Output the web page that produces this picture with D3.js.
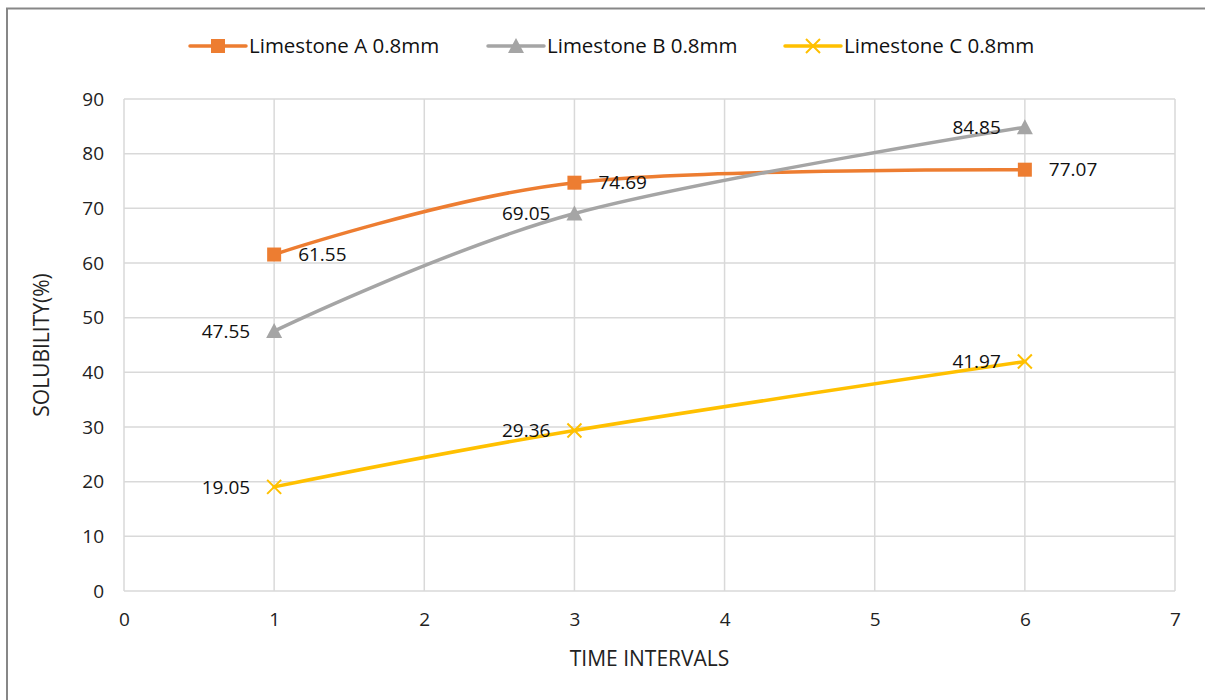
<!DOCTYPE html>
<html>
<head>
<meta charset="utf-8">
<script src="https://cdn.jsdelivr.net/npm/d3@7"></script>
<style>
  html, body { margin: 0; padding: 0; background: #fff; }
  svg { display: block; font-family: "Open Sans", sans-serif; }
</style>
</head>
<body>
<svg id="chart" width="1205" height="700"></svg>
<script>
// Solubility of limestone samples over time intervals
const timeIntervals = [1, 3, 6];
const limestoneA = [61.55, 74.69, 77.07];
const limestoneB = [47.55, 69.05, 84.85];
const limestoneC = [19.05, 29.36, 41.97];
const seriesNames = ["Limestone A 0.8mm", "Limestone B 0.8mm", "Limestone C 0.8mm"];
const xTicks = [0, 1, 2, 3, 4, 5, 6, 7];
const yTicks = [0, 10, 20, 30, 40, 50, 60, 70, 80, 90];

const series = [
  { name: seriesNames[0], values: limestoneA, color: "#ED7D31", marker: "square", labelSide: "right" },
  { name: seriesNames[1], values: limestoneB, color: "#A5A5A5", marker: "triangle", labelSide: "left" },
  { name: seriesNames[2], values: limestoneC, color: "#FFC000", marker: "cross", labelSide: "left" }
];

const FONT = "'Open Sans', sans-serif";
const svg = d3.select("#chart");

// outer frame
svg.append("path")
  .attr("d", "M7,700 L7,8.5 L1205,8.5")
  .attr("fill", "none")
  .attr("stroke", "#878787")
  .attr("stroke-width", 2);

const x = d3.scaleLinear().domain([0, 7]).range([124, 1175]);
const y = d3.scaleLinear().domain([0, 90]).range([591, 99]);

// gridlines
const grid = svg.append("g");
grid.selectAll("line.h").data(yTicks).join("line")
  .attr("x1", x(0)).attr("x2", x(7))
  .attr("y1", d => y(d)).attr("y2", d => y(d))
  .attr("stroke", "#D9D9D9").attr("stroke-width", 1.5);
grid.selectAll("line.v").data(xTicks).join("line")
  .attr("y1", y(0)).attr("y2", y(90))
  .attr("x1", d => x(d)).attr("x2", d => x(d))
  .attr("stroke", "#D9D9D9").attr("stroke-width", 1.5);

// axes (tick labels only)
const yAxis = svg.append("g")
  .attr("transform", `translate(${x(0) - 20},0)`)
  .call(d3.axisLeft(y).tickValues(yTicks).tickFormat(d3.format("d")).tickSize(0).tickPadding(0));
yAxis.select(".domain").remove();
yAxis.selectAll("text").attr("font-size", 19).attr("fill", "#222").attr("font-family", FONT);

const xAxis = svg.append("g")
  .attr("transform", `translate(0,${y(0) + 21})`)
  .call(d3.axisBottom(x).tickValues(xTicks).tickFormat(d3.format("d")).tickSize(0).tickPadding(0));
xAxis.select(".domain").remove();
xAxis.selectAll("text").attr("font-size", 19).attr("fill", "#222").attr("font-family", FONT);

// axis titles
svg.append("text")
  .attr("x", (x(0) + x(7)) / 2).attr("y", 659)
  .attr("dy", "0.35em")
  .attr("text-anchor", "middle").attr("font-size", 21).attr("fill", "#222")
  .text("TIME INTERVALS");
svg.append("text")
  .attr("transform", `translate(42,${(y(0) + y(90)) / 2}) rotate(-90)`)
  .attr("text-anchor", "middle").attr("dy", "0.35em").attr("font-size", 21).attr("fill", "#222")
  .text("SOLUBILITY(%)");

function drawMarker(g, type, color) {
  if (type === "square") {
    g.append("rect").attr("x", -7).attr("y", -7).attr("width", 14).attr("height", 14).attr("fill", color);
  } else if (type === "triangle") {
    g.append("path").attr("d", "M0,-8 L8,7 L-8,7 Z").attr("fill", color);
  } else {
    g.append("path").attr("d", "M-7,-7 L7,7 M-7,7 L7,-7")
      .attr("stroke", color).attr("stroke-width", 2).attr("fill", "none");
  }
}

const line = d3.line()
  .x((d, i) => x(timeIntervals[i]))
  .y(d => y(d))
  .curve(d3.curveCardinal.tension(0));

series.forEach(s => {
  svg.append("path")
    .attr("d", line(s.values))
    .attr("fill", "none")
    .attr("stroke", s.color)
    .attr("stroke-width", 3.5)
    .attr("stroke-linecap", "round");
});

series.forEach(s => {
  s.values.forEach((v, i) => {
    const g = svg.append("g").attr("transform", `translate(${x(timeIntervals[i])},${y(v)})`);
    drawMarker(g, s.marker, s.color);
  });
});

// data labels
series.forEach(s => {
  svg.append("g").selectAll("text").data(s.values).join("text")
    .attr("x", (d, i) => x(timeIntervals[i]) + (s.labelSide === "right" ? 24 : -24))
    .attr("y", d => y(d))
    .attr("dy", "0.35em")
    .attr("text-anchor", s.labelSide === "right" ? "start" : "end")
    .attr("font-size", 19)
    .attr("fill", "#111")
    .text(d => d.toFixed(2));
});

// legend
const legendX = [190, 488, 785];
const legend = svg.append("g");
series.forEach((s, i) => {
  const g = legend.append("g").attr("transform", `translate(${legendX[i]},46)`);
  g.append("line").attr("x1", 0).attr("x2", 56).attr("y1", 0).attr("y2", 0)
    .attr("stroke", s.color).attr("stroke-width", 3.5).attr("stroke-linecap", "round");
  const m = g.append("g").attr("transform", "translate(28,0)");
  drawMarker(m, s.marker, s.color);
  g.append("text").attr("x", 59).attr("dy", "0.35em")
    .attr("font-size", 20.5).attr("fill", "#111").text(s.name);
});
</script>
</body>
</html>
